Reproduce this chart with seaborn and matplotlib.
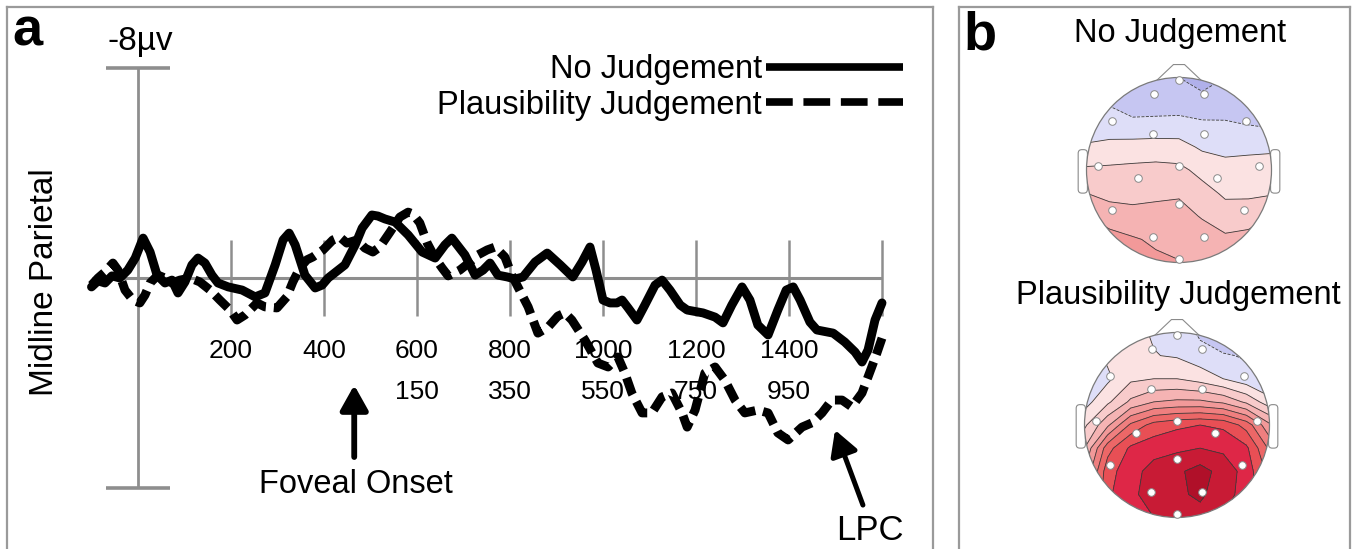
import numpy as np
import pandas as pd
import matplotlib
matplotlib.use("Agg")
import matplotlib.pyplot as plt
import seaborn as sns
from matplotlib.patches import Circle, Polygon, FancyBboxPatch
from matplotlib.lines import Line2D

# ---------------- data ----------------
time_nj = [-100, -86, -71, -56, -39, -22, -6, 11, 26, 41, 58, 73, 86, 101, 116, 129, 144, 159, 172, 194,
           224, 252, 273, 295, 312, 325, 338, 359, 381, 396, 409, 445, 467, 482, 503, 516, 531, 553, 581, 611,
           639, 660, 675, 703, 725, 742, 757, 774, 794, 811, 828, 854, 880, 908, 935, 955, 972, 985, 1000, 1015,
           1030, 1041, 1054, 1073, 1090, 1112, 1127, 1144, 1166, 1181, 1215, 1241, 1258, 1277, 1299, 1316, 1333,
           1355, 1376, 1394, 1409, 1424, 1445, 1460, 1495, 1520, 1542, 1557, 1570, 1585, 1600]
amp_nj = [0.34, 0.11, 0.19, -0.08, 0.0, -0.30, -0.76, -1.52, -0.99, -0.11, 0.19, 0.08, 0.57, 0.15, -0.50, -0.76,
          -0.57, -0.11, 0.19, 0.34, 0.46, 0.72, 0.57, -0.50, -1.45, -1.71, -1.26, -0.11, 0.38, 0.27, 0.0, -0.50,
          -1.26, -1.90, -2.40, -2.36, -2.25, -2.13, -1.64, -0.99, -0.76, -1.26, -1.52, -0.88, -0.11, -0.30, -0.57,
          -0.11, -0.04, 0.04, -0.04, -0.61, -0.95, -0.50, -0.04, -0.61, -1.18, -0.30, 0.84, 0.95, 0.95, 0.84, 1.14,
          1.60, 1.03, 0.27, 0.08, 0.46, 1.03, 1.22, 1.33, 1.49, 1.71, 1.03, 0.34, 0.84, 1.79, 2.17, 1.22, 0.46,
          0.34, 0.84, 1.68, 1.98, 2.10, 2.44, 2.82, 3.20, 2.74, 1.60, 0.95]
time_pj = [-100, -86, -71, -54, -43, -28, -11, 4, 15, 26, 43, 58, 73, 90, 112, 133, 155, 176, 198, 213, 230,
           256, 273, 299, 320, 333, 348, 363, 376, 398, 419, 434, 449, 471, 488, 505, 520, 542, 563, 581, 591,
           606, 622, 639, 654, 667, 692, 714, 731, 751, 768, 789, 804, 817, 839, 860, 882, 903, 918, 933, 961,
           989, 1011, 1032, 1047, 1062, 1084, 1105, 1127, 1148, 1170, 1181, 1198, 1219, 1241, 1262, 1284, 1305,
           1333, 1355, 1376, 1398, 1428, 1449, 1471, 1492, 1514, 1535, 1557, 1578, 1589, 1600]
amp_pj = [0.27, 0.0, -0.23, -0.57, -0.30, 0.46, 0.84, 0.95, 0.65, 0.19, -0.11, 0.0, 0.19, 0.08, 0.0, 0.15, 0.46,
          0.84, 1.22, 1.60, 1.41, 0.95, 1.10, 1.14, 0.72, 0.15, -0.38, -0.69, -0.80, -1.07, -1.45, -1.56, -1.33,
          -1.45, -1.14, -0.99, -1.18, -1.75, -2.32, -2.51, -2.44, -2.10, -1.33, -0.76, -0.38, -0.08, -0.30, -0.61,
          -0.88, -1.07, -1.18, -0.80, -0.11, 0.34, 1.10, 2.10, 1.87, 1.45, 1.33, 1.60, 2.36, 3.24, 3.39, 3.01,
          3.62, 4.38, 5.14, 5.14, 4.53, 4.38, 5.14, 5.68, 5.03, 3.62, 3.39, 3.89, 4.65, 5.14, 5.03, 5.14, 5.90,
          6.17, 5.68, 5.52, 5.14, 4.65, 4.65, 4.91, 4.38, 3.39, 2.86, 2.29]

conditions = ["No Judgement", "Plausibility Judgement"]
xtick_ms = [200, 400, 600, 800, 1000, 1200, 1400]
xtick_foveal = [150, 350, 550, 750, 950]
foveal_onset_ms = 450
grid_ms = [200, 400, 600, 800, 1000, 1200, 1400, 1600]
scale_uv = 8

# topographic maps (rows: front -> back, cols: left -> right), microvolts
topo_nj = [
    [-0.90, -0.90, -0.95, -0.95, -1.00, -1.15, -1.00, -0.95, -0.90],
    [-0.55, -0.58, -0.75, -0.75, -0.80, -0.90, -0.78, -0.75, -0.75],
    [-0.25, -0.25, -0.40, -0.38, -0.33, -0.42, -0.45, -0.52, -0.60],
    [0.05, 0.12, 0.20, 0.22, 0.18, -0.08, -0.12, -0.10, -0.08],
    [0.58, 0.60, 0.62, 0.65, 0.62, 0.35, 0.15, 0.18, 0.20],
    [1.00, 0.85, 0.85, 0.90, 0.95, 0.68, 0.42, 0.40, 0.45],
    [1.50, 1.25, 1.15, 1.17, 1.15, 0.97, 0.72, 0.80, 1.00],
    [1.80, 1.70, 1.55, 1.42, 1.35, 1.20, 1.10, 1.15, 1.20],
    [2.00, 1.95, 1.80, 1.60, 1.52, 1.35, 1.30, 1.30, 1.30],
]
topo_pj = [
    [0.20, 0.20, 0.15, -0.05, -0.10, -0.60, -0.90, -1.10, -1.20],
    [-0.30, 0.10, 0.30, 0.02, -0.05, -0.30, -0.45, -0.55, -0.80],
    [-0.40, -0.10, 0.40, 0.50, 0.50, 0.30, 0.00, -0.30, -0.60],
    [-0.20, 0.40, 1.10, 1.50, 1.60, 1.60, 1.40, 0.90, 0.20],
    [0.40, 1.40, 2.60, 3.20, 3.40, 3.50, 3.40, 2.80, 1.60],
    [1.00, 2.80, 3.60, 3.80, 3.90, 4.00, 3.90, 3.60, 2.40],
    [1.50, 3.30, 3.80, 4.20, 4.40, 4.70, 4.30, 3.80, 2.80],
    [1.80, 3.40, 3.90, 4.20, 4.40, 4.60, 4.20, 3.80, 3.00],
    [2.00, 3.40, 3.80, 4.00, 4.20, 4.30, 4.00, 3.70, 3.00],
]
topo_levels = [-1.5, -1.0, -0.5, 0.0, 0.5, 1.0, 1.5, 2.0, 2.5, 3.0, 3.5, 4.0, 4.5, 5.0]
topo_colors = ["#b0b0ea", "#c6c6f2", "#dedef8", "#fbe2e2", "#f8cbcb", "#f5b3b3", "#f29999",
               "#ef7f7f", "#ec6767", "#e84f55", "#de2747", "#c81b35", "#b01029"]
electrodes_u = [0.0, -0.27, 0.27, -0.72, 0.72, -0.28, 0.27, -0.88, 0.0, 0.86, -0.44, 0.41,
                -0.72, 0.0, 0.70, -0.28, 0.27, 0.0]
electrodes_w = [0.97, 0.82, 0.82, 0.53, 0.53, 0.39, 0.39, 0.04, 0.04, 0.04, -0.09, -0.09,
                -0.43, -0.37, -0.43, -0.72, -0.72, -0.96]

# ---------------- figure ----------------
W, H = 1360, 549
fig = plt.figure(figsize=(W / 100, H / 100), dpi=100)
plt.rcParams["font.family"] = ["Liberation Sans", "DejaVu Sans"]
GRAY = "#8e8e8e"
BORDER = "#9a9a9a"

# pixel mapping for panel a: t=0 at x=138, 0.465 px/ms ; 0 uV at y=278, 26.25 px/uV
x0, pxms, y0, pxuv = 138, 0.465, 278, 26.25
axl, axr, axt, axb = 7, 933, 7, 549
ax = fig.add_axes([axl / W, 1 - axb / H, (axr - axl) / W, (axb - axt) / H])
ax.set_xlim((axl - x0) / pxms, (axr - x0) / pxms)
ax.set_ylim((axb - y0) / pxuv, (axt - y0) / pxuv)

df = pd.concat([
    pd.DataFrame({"time": time_nj, "amp": amp_nj, "condition": conditions[0]}),
    pd.DataFrame({"time": time_pj, "amp": amp_pj, "condition": conditions[1]}),
])

# axis decorations
ax.hlines(0, -100, 1600, color=GRAY, lw=2.2, zorder=1)
ax.vlines(0, -scale_uv, scale_uv, color=GRAY, lw=2.0, zorder=1)
ax.hlines([-scale_uv, scale_uv], -69, 69, color=GRAY, lw=2.6, zorder=1)
ax.vlines(grid_ms, -1.45, 1.45, color=GRAY, lw=1.8, zorder=1)

sns.lineplot(data=df, x="time", y="amp", style="condition",
             style_order=[conditions[1], conditions[0]],
             dashes={conditions[0]: "", conditions[1]: (2.0, 0.9)},
             color="black", linewidth=6.4, estimator=None, sort=True,
             legend=False, ax=ax, zorder=3)
for ln in ax.lines[-2:]:
    ln.set_solid_capstyle("round")
    ln.set_solid_joinstyle("round")
    ln.set_dash_joinstyle("round")

ax.set_xlabel("")
ax.set_ylabel("")
ax.set_xticks([])
ax.set_yticks([])
for s in ["left", "right", "top"]:
    ax.spines[s].set_color(BORDER)
    ax.spines[s].set_linewidth(1.6)
ax.spines["bottom"].set_visible(False)

# tick labels
for t in xtick_ms:
    ax.text(t, 3.05, str(t), ha="center", va="baseline", fontsize=19)
for lab in xtick_foveal:
    ax.text(lab + foveal_onset_ms, 4.61, str(lab), ha="center", va="baseline", fontsize=19)

ax.text(5, -8.69, "-8µv", ha="center", va="baseline", fontsize=24)
ax.text(-202, 0.15, "Midline Parietal", rotation=90, ha="center", va="center", fontsize=24)

# annotations
ax.annotate("", xy=(465, 4.08), xytext=(465, 6.82),
            arrowprops=dict(arrowstyle="-|>,head_width=0.42,head_length=0.75", lw=4.2,
                            color="black", mutation_scale=20, shrinkA=0, shrinkB=0))
ax.text(469, 8.19, "Foveal Onset", ha="center", va="baseline", fontsize=23.5)
ax.annotate("", xy=(1499, 5.79), xytext=(1559, 8.65),
            arrowprops=dict(arrowstyle="-|>,head_width=0.42,head_length=0.75", lw=3.6,
                            color="black", mutation_scale=20, shrinkA=0, shrinkB=0))
ax.text(1574, 9.98, "LPC", ha="center", va="baseline", fontsize=25)

# legend (text left of line)
handles = [Line2D([], [], color="black", lw=5.5, solid_capstyle="butt"),
           Line2D([], [], color="black", lw=5.5, dashes=(3.5, 1.4))]
ax.legend(handles, conditions, loc="upper right", markerfirst=False, frameon=False,
          fontsize=23.5, handlelength=4.2, handletextpad=0.12, labelspacing=0.14,
          borderpad=0, borderaxespad=0,
          bbox_to_anchor=(903 / W, 1 - 54 / H), bbox_transform=fig.transFigure)

fig.text(12 / W, 1 - 45 / H, "a", fontsize=39, fontweight="bold", ha="left", va="baseline")

# ---------------- panel b ----------------
bx = fig.add_axes([959 / W, 1 - 549 / H, (1350 - 959) / W, (549 - 7) / H])
bx.set_xticks([])
bx.set_yticks([])
bx.set_facecolor("none")
for s in ["left", "right", "top"]:
    bx.spines[s].set_color(BORDER)
    bx.spines[s].set_linewidth(1.6)
bx.spines["bottom"].set_visible(False)
fig.text(963 / W, 1 - 50 / H, "b", fontsize=39, fontweight="bold", ha="left", va="baseline")


def draw_head(cx, cy, r, grid):
    half = 112
    hx = fig.add_axes([(cx - half) / W, 1 - (cy + half) / H, 2 * half / W, 2 * half / H])
    lim = half / r
    hx.set_xlim(-lim, lim)
    hx.set_ylim(-lim, lim)
    hx.axis("off")
    u = np.linspace(-1, 1, 9)
    w = np.linspace(1, -1, 9)
    U, Wg = np.meshgrid(u, w)
    Z = np.array(grid)
    nose = Polygon([(-0.25, 0.96), (-0.06, 1.14), (0.06, 1.14), (0.25, 0.96)], closed=True,
                   facecolor="white", edgecolor="#8a8a8a", lw=0.8, zorder=0)
    hx.add_patch(nose)
    for ex in (-1.09, 0.99):
        ear = FancyBboxPatch((ex, -0.25), 0.10, 0.47, boxstyle="round,pad=0,rounding_size=0.04",
                             facecolor="white", edgecolor="#8a8a8a", lw=0.8, zorder=0)
        hx.add_patch(ear)
    bg = Circle((0, 0), 1, facecolor="white", edgecolor="none", zorder=0.5)
    hx.add_patch(bg)
    clip = Circle((0, 0), 1, transform=hx.transData)
    cf = hx.contourf(U, Wg, Z, levels=topo_levels, colors=topo_colors, zorder=1)
    cf.set_clip_path(clip)
    cl = hx.contour(U, Wg, Z, levels=topo_levels[1:-1], colors="#3a3a3a", linewidths=0.6, zorder=2)
    cl.set_clip_path(clip)
    hx.add_patch(Circle((0, 0), 1, facecolor="none", edgecolor="#7a7a7a", lw=0.9, zorder=3))
    hx.scatter(electrodes_u, electrodes_w, s=30, facecolor="white", edgecolor="#8a8a8a",
               linewidths=0.7, zorder=4)
    return hx


draw_head(1179, 170, 92.5, topo_nj)
draw_head(1177, 425, 92.5, topo_pj)
fig.text(1180 / W, 1 - 42 / H, "No Judgement", fontsize=23.5, ha="center", va="baseline")
fig.text(1178 / W, 1 - 304 / H, "Plausibility Judgement", fontsize=23.5, ha="center", va="baseline")

fig.savefig("out.png", dpi=100)
